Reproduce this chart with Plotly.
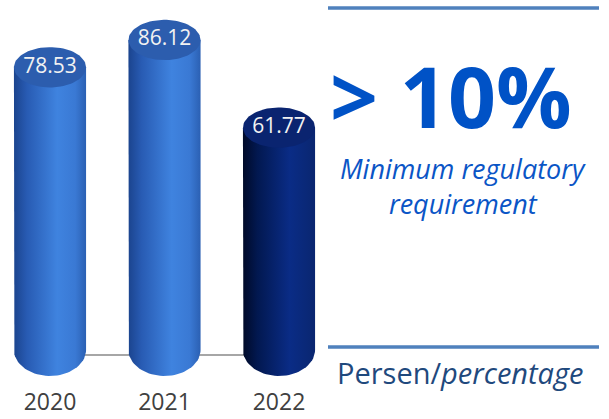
import numpy as np
import plotly.graph_objects as go

years = ["2020", "2021", "2022"]
values = [78.53, 86.12, 61.77]
label_texts = ["78.53", "86.12", "61.77"]
body_scales = [
    [[0, "#1B448E"], [0.18, "#285BB3"], [0.6, "#3F83DF"], [0.85, "#3A79D4"], [1, "#2B60B3"]],
    [[0, "#1B448E"], [0.18, "#285BB3"], [0.6, "#3F83DF"], [0.85, "#3A79D4"], [1, "#2B60B3"]],
    [[0, "#000A28"], [0.2, "#021850"], [0.65, "#0A2C86"], [1, "#0A2670"]],
]
top_colors = ["#2C5DAE", "#2C5DAE", "#0A2470"]

W = 609
H = 419
bar_w = 0.63        # in category units
ry_top = 5.6        # top ellipse vertical radius in value units
ry_bot = 7.2        # bottom rounding vertical radius in value units

fig = go.Figure()

xs = np.arange(len(years))
fig.add_trace(go.Scatter(x=[xs[0], xs[-1]], y=[-1.4, -1.4], mode="lines",
                         line=dict(color="#A6A6A6", width=2), hoverinfo="skip", showlegend=False))

t_bot = np.linspace(np.pi, 2 * np.pi, 40)
t_full = np.linspace(0, 2 * np.pi, 80)
for i, (c, v) in enumerate(zip(xs, values)):
    rx = bar_w / 2
    bx = list(c + rx * np.cos(t_bot))
    by = list(0 + ry_bot * np.sin(t_bot))
    px = [c - rx] + bx + [c + rx, c - rx]
    py = [v] + by + [v, v]
    fig.add_trace(go.Scatter(x=px, y=py, mode="lines", fill="toself",
                             line=dict(width=0, color="rgba(0,0,0,0)"),
                             fillgradient=dict(type="horizontal", colorscale=body_scales[i]),
                             hoverinfo="skip", showlegend=False))
    ex = c + rx * np.cos(t_full)
    ey = v + ry_top * np.sin(t_full)
    fig.add_trace(go.Scatter(x=ex, y=ey, mode="lines", fill="toself",
                             fillcolor=top_colors[i],
                             line=dict(width=0, color="rgba(0,0,0,0)"),
                             hoverinfo="skip", showlegend=False))

fig.add_trace(go.Scatter(x=xs, y=values, mode="text", text=label_texts,
                         textposition="middle center",
                         textfont=dict(family="Open Sans", size=21, color="#F2F2F2"),
                         hoverinfo="skip", showlegend=False))

px_per_unit = 3.6
y0_pix = 350
plot_bottom = 380
cat_spacing = 114.5
c0_pix = 50
x_right_pix = 320


def py_(pix):
    return 1 - pix / plot_bottom


fig.update_layout(
    width=W, height=H,
    margin=dict(l=0, r=0, t=0, b=H - plot_bottom),
    paper_bgcolor="white", plot_bgcolor="white",
    xaxis=dict(domain=[0, x_right_pix / W],
               range=[-c0_pix / cat_spacing, (x_right_pix - c0_pix) / cat_spacing],
               tickmode="array", tickvals=list(xs), ticktext=years,
               tickfont=dict(family="Open Sans", size=23, color="#404040"),
               showgrid=False, zeroline=False, showline=False, ticks="",
               ticklabelstandoff=6),
    yaxis=dict(range=[(y0_pix - plot_bottom) / px_per_unit, y0_pix / px_per_unit],
               visible=False, showgrid=False, zeroline=False),
    shapes=[
        dict(type="line", xref="paper", yref="paper", x0=328 / W, x1=599 / W,
             y0=py_(8), y1=py_(8), line=dict(color="#4F81BD", width=3.5)),
        dict(type="line", xref="paper", yref="paper", x0=328 / W, x1=599 / W,
             y0=py_(347), y1=py_(347), line=dict(color="#4F81BD", width=3.5)),
    ],
    annotations=[
        dict(xref="paper", yref="paper", x=451 / W, y=py_(95), text="<b>&gt; 10%</b>",
             showarrow=False, xanchor="center", yanchor="middle",
             font=dict(family="Open Sans", size=84, color="#0052C6")),
        dict(xref="paper", yref="paper", x=463 / W, y=py_(169), text="<i>Minimum regulatory</i>",
             showarrow=False, xanchor="center", yanchor="middle",
             font=dict(family="Open Sans", size=27, color="#0A55C6")),
        dict(xref="paper", yref="paper", x=463 / W, y=py_(203), text="<i>requirement</i>",
             showarrow=False, xanchor="center", yanchor="middle",
             font=dict(family="Open Sans", size=27, color="#0A55C6")),
        dict(xref="paper", yref="paper", x=460 / W, y=py_(372), text="Persen/<i>percentage</i>",
             showarrow=False, xanchor="center", yanchor="middle",
             font=dict(family="Open Sans", size=29, color="#1F497D")),
    ],
)

fig.write_html("out.html", config={"displayModeBar": False},
               post_script="document.body.style.margin='0';document.body.style.overflow='hidden';")
